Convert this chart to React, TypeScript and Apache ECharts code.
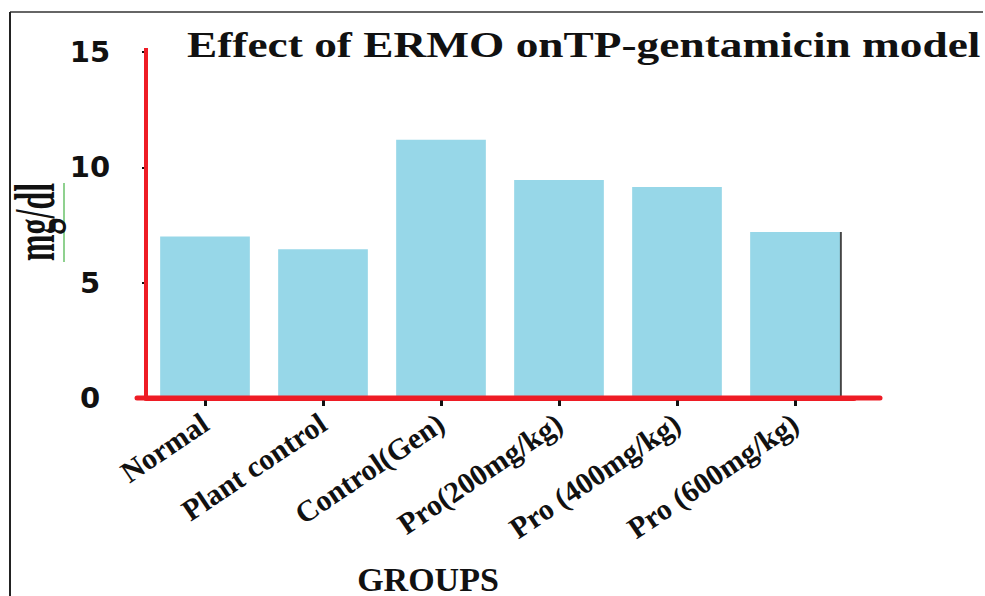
import React, { useEffect, useRef } from "react";
import * as echarts from "echarts";

const categories = [
  "Normal",
  "Plant control",
  "Control(Gen)",
  "Pro(200mg/kg)",
  "Pro (400mg/kg)",
  "Pro (600mg/kg)",
];
const values = [7.0, 6.45, 11.2, 9.45, 9.15, 7.2];
const yTicks = { min: 0, max: 15, interval: 5 };
const titleText = "Effect of ERMO onTP-gentamicin model";
const yAxisTitle = "mg/dl";
const xAxisTitle = "GROUPS";

const serif = "'Liberation Serif', 'Times New Roman', serif";

export default function App() {
  const ref = useRef<HTMLDivElement>(null);
  useEffect(() => {
    if (!ref.current) return;
    const chart = echarts.init(ref.current, undefined, { renderer: "svg" });
    chart.setOption({
      animation: false,
      backgroundColor: "#ffffff",
      grid: { left: 146, right: 131, top: 52, bottom: 198, containLabel: false },
      xAxis: {
        type: "category",
        data: categories,
        axisLine: { show: true, lineStyle: { color: "#ee1c25", width: 5 } },
        axisTick: {
          show: true,
          alignWithLabel: true,
          length: 8,
          lineStyle: { color: "#111", width: 3 },
        },
        axisLabel: {
          interval: 0,
          rotate: 34,
          margin: 22,
          color: "#111",
          fontFamily: serif,
          fontWeight: "bold",
          fontSize: 30,
        },
      },
      yAxis: {
        type: "value",
        min: yTicks.min,
        max: yTicks.max,
        interval: yTicks.interval,
        splitLine: { show: false },
        axisLine: { show: true, lineStyle: { color: "#ee1c25", width: 4 } },
        axisTick: { show: true, length: 4, lineStyle: { color: "#111", width: 2 } },
        axisLabel: {
          align: "center",
          margin: 56,
          color: "#111",
          fontFamily: "'DejaVu Sans', sans-serif",
          fontWeight: "bold",
          fontSize: 29,
        },
      },
      series: [
        {
          type: "bar",
          data: values.map((v, i) =>
            i === values.length - 1
              ? {
                  value: v,
                  itemStyle: {
                    shadowColor: "#444",
                    shadowOffsetX: 2,
                    shadowOffsetY: 0,
                    shadowBlur: 0,
                  },
                }
              : v
          ),
          barCategoryGap: "24%",
          itemStyle: { color: "#97d7e8" },
        },
      ],
      graphic: [
        {
          type: "line",
          shape: { x1: 10, y1: 12, x2: 983, y2: 12 },
          style: { stroke: "#666", lineWidth: 2 },
        },
        {
          type: "line",
          shape: { x1: 10, y1: 12, x2: 10, y2: 596 },
          style: { stroke: "#222", lineWidth: 2 },
        },
        {
          type: "line",
          shape: { x1: 137, y1: 398, x2: 880, y2: 398 },
          style: { stroke: "#ee1c25", lineWidth: 5, lineCap: "round" },
          z: 10,
        },
        {
          type: "line",
          shape: { x1: 146, y1: 48, x2: 146, y2: 398 },
          style: { stroke: "#ee1c25", lineWidth: 4 },
          z: 10,
        },
        {
          type: "line",
          shape: { x1: 64, y1: 183, x2: 64, y2: 262 },
          style: { stroke: "#8fd18f", lineWidth: 2 },
        },
        {
          type: "text",
          x: 187,
          y: 45,
          scaleX: 1.26,
          style: {
            text: titleText,
            fill: "#111",
            font: `bold 36px ${serif}`,
            textVerticalAlign: "middle",
          },
        },
        {
          type: "text",
          x: 35,
          y: 222,
          rotation: Math.PI / 2,
          scaleY: 1.75,
          style: {
            text: yAxisTitle,
            fill: "#111",
            font: `bold 32px ${serif}`,
            textAlign: "center",
            textVerticalAlign: "middle",
          },
        },
        {
          type: "text",
          x: 428,
          y: 579,
          style: {
            text: xAxisTitle,
            fill: "#111",
            font: `bold 34px ${serif}`,
            textAlign: "center",
            textVerticalAlign: "middle",
          },
        },
      ],
    });
    return () => chart.dispose();
  }, []);
  return (
    <div
      ref={ref}
      style={{ position: "fixed", left: 0, top: 0, width: 985, height: 596 }}
    />
  );
}
